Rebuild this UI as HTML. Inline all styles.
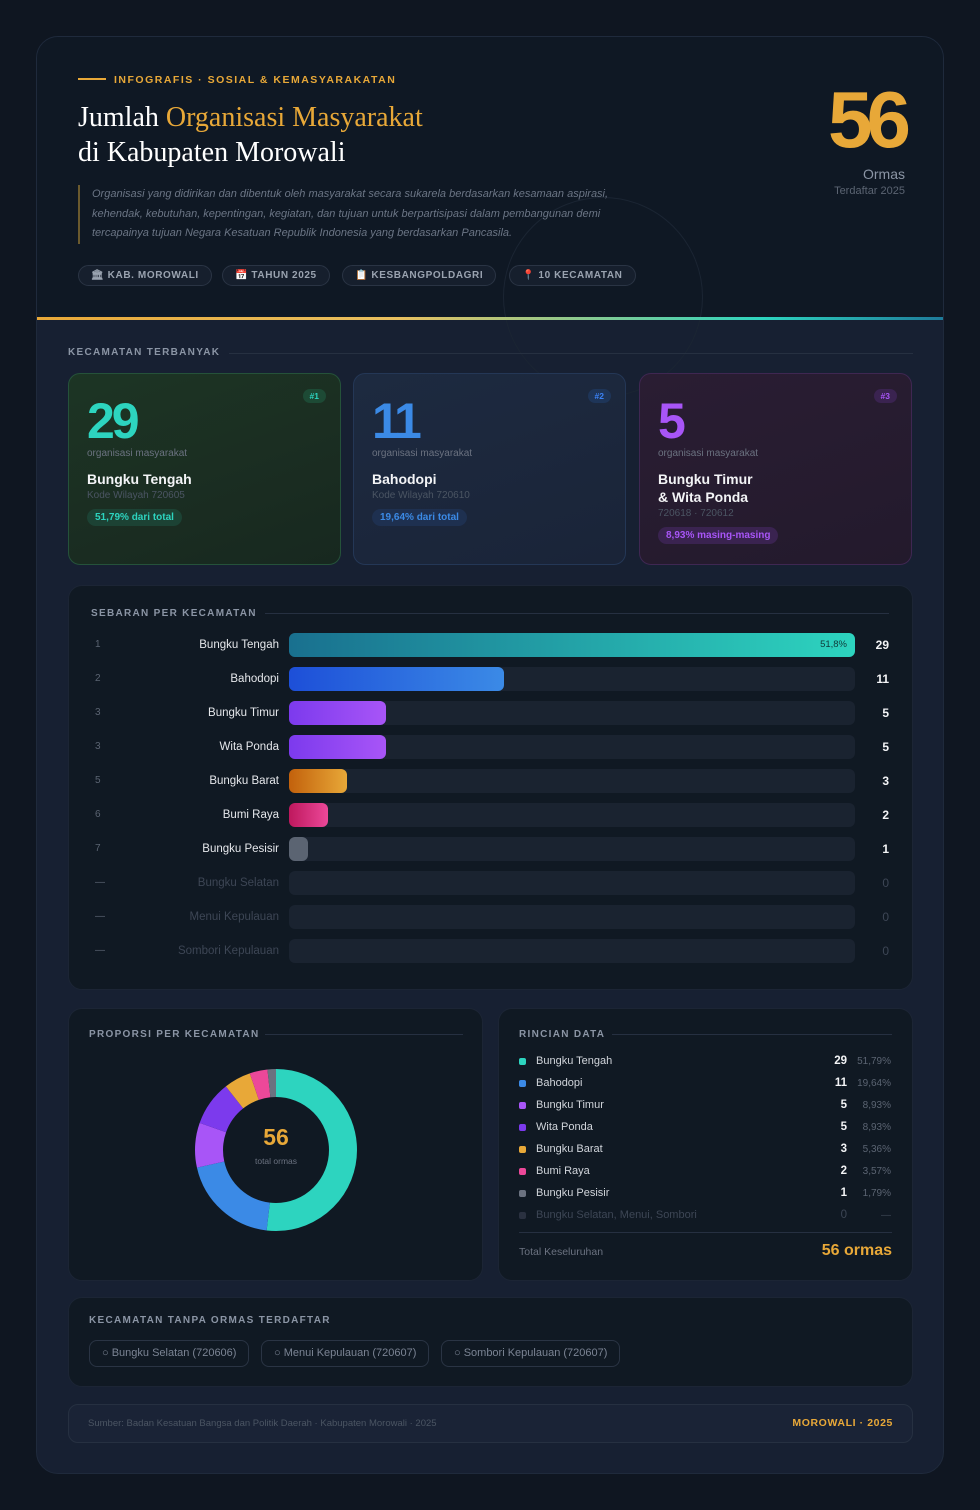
<!DOCTYPE html>
<html><head><meta charset="utf-8"><style>
*{box-sizing:border-box;margin:0;padding:0}
body{width:980px;height:1510px;background:#0f1621;font-family:"Liberation Sans",sans-serif;color:#e5e7eb;position:relative;overflow:hidden}
.wrap{position:absolute;left:36px;top:36px;width:908px;height:1438px;background:#172032;border-radius:22px;border:1px solid #1f2a3c;overflow:hidden}
.hdr{position:absolute;left:0;top:0;width:908px;height:280px;background:#0f1824}
.grad{position:absolute;left:0;top:280px;width:908px;height:3px;background:linear-gradient(90deg,#e8a838,#e8c060 40%,#2dd4bf 80%,#1e7a9a)}
.abs{position:absolute}
.tag{font-size:10.5px;font-weight:bold;letter-spacing:1.5px;color:#e8a838}
.sec{font-size:10px;font-weight:bold;letter-spacing:1.3px;color:#8b95a5}
.pill{position:absolute;top:228px;height:21px;border:1px solid #2a3444;border-radius:11px;background:#161f2d;font-size:10px;font-weight:bold;color:#9aa3b0;letter-spacing:.6px;line-height:19px;padding:0 12px}
.card{position:absolute;top:336px;width:273px;height:192px;border-radius:12px}
.big{position:absolute;left:18px;top:18px;font-size:50px;font-weight:bold;letter-spacing:-3px}
.small{position:absolute;left:18px;top:74px;font-size:10px;color:#6b7280}
.nm{position:absolute;left:18px;font-size:14px;font-weight:bold;color:#f3f4f6;line-height:18px}
.code{position:absolute;left:18px;font-size:10px;color:#4b5563}
.bdg{position:absolute;left:18px;height:17px;border-radius:9px;font-size:10px;font-weight:bold;line-height:17px;padding:0 8px}
.rk{position:absolute;right:14px;top:15px;height:14px;border-radius:7px;font-size:8.5px;font-weight:bold;line-height:14px;padding:0 7px}
.panel{position:absolute;background:#101923;border-radius:14px;border:1px solid #1c2535}
.row{position:absolute;left:0;width:840px;height:24px}
.row .n{position:absolute;left:26px;top:6px;font-size:10px;color:#5b6472}
.row .l{position:absolute;right:630px;top:6px;font-size:11.5px;color:#e5e7eb;white-space:nowrap}
.row .t{position:absolute;left:220px;top:0;width:566px;height:24px;background:#1a2330;border-radius:6px}
.row .b{position:absolute;left:220px;top:0;height:24px;border-radius:6px}
.row .v{position:absolute;left:800px;top:5px;width:20px;text-align:right;font-size:12px;font-weight:bold;color:#f3f4f6}
.row.z .l,.row.z .v{color:#3d4655;font-weight:normal}
.lg{position:absolute;left:20px;width:372px;height:14px;font-size:11px;color:#d1d5db}
.lg i{position:absolute;left:0;top:3px;width:7px;height:7px;border-radius:2px}
.lg span.a{position:absolute;left:17px;top:0}
.lg b{position:absolute;right:44px;top:0;font-size:11.5px;color:#f3f4f6}
.lg em{position:absolute;right:0;top:1px;font-style:normal;font-size:10px;color:#5b6472}
.chip{position:absolute;top:42px;height:27px;border:1px solid #2a3444;border-radius:8px;font-size:11px;color:#7b8494;line-height:25px;padding:0 12px}
</style></head><body>
<div class="wrap">
<div class="hdr">
 <div class="abs" style="left:466px;top:160px;width:200px;height:200px;border:1px solid #1b2533;border-radius:50%"></div>
 <div class="abs" style="left:41px;top:41px;width:28px;height:2px;background:#e8a838"></div>
 <div class="abs tag" style="left:77px;top:37px">INFOGRAFIS · SOSIAL &amp; KEMASYARAKATAN</div>
 <div class="abs" style="left:41px;top:63px;font-family:'Liberation Serif',serif;font-size:28px;line-height:35px;color:#fff">Jumlah <span style="color:#e8a838">Organisasi Masyarakat</span><br>di Kabupaten Morowali</div>
 <div class="abs" style="left:41px;top:148px;width:2px;height:59px;background:#6b5a2e"></div>
 <div class="abs" style="left:55px;top:148px;width:560px;font-size:11px;line-height:19.5px;font-style:italic;color:#6b7585">Organisasi yang didirikan dan dibentuk oleh masyarakat secara sukarela berdasarkan kesamaan aspirasi, kehendak, kebutuhan, kepentingan, kegiatan, dan tujuan untuk berpartisipasi dalam pembangunan demi tercapainya tujuan Negara Kesatuan Republik Indonesia yang berdasarkan Pancasila.</div>
 <div class="pill" style="left:41px">🏛 KAB. MOROWALI</div>
 <div class="pill" style="left:185px">📅 TAHUN 2025</div>
 <div class="pill" style="left:305px">📋 KESBANGPOLDAGRI</div>
 <div class="pill" style="left:472px">📍 10 KECAMATAN</div>
 <div class="abs" style="right:40px;top:38px;font-size:80px;font-weight:bold;letter-spacing:-6px;color:#e8a838;line-height:90px">56</div>
 <div class="abs" style="right:40px;top:129px;font-size:14px;color:#8b95a5">Ormas</div>
 <div class="abs" style="right:40px;top:148px;font-size:11px;color:#5b6472">Terdaftar 2025</div>
</div>
<div class="grad"></div>
<div class="abs sec" style="left:31px;top:310px">KECAMATAN TERBANYAK</div>
<div class="abs" style="left:192px;top:316px;width:684px;height:1px;background:#263041"></div>

<div class="card" style="left:31px;background:linear-gradient(160deg,#1c3524,#1b2e22 50%,#17281f);border:1px solid #25523a">
 <div class="rk" style="background:#1d4a35;color:#2dd4bf">#1</div>
 <div class="big" style="color:#2dd4bf">29</div><div class="small">organisasi masyarakat</div>
 <div class="nm" style="top:96px">Bungku Tengah</div><div class="code" style="top:116px">Kode Wilayah 720605</div>
 <div class="bdg" style="top:135px;background:#1c4234;color:#2dd4bf">51,79% dari total</div></div>
<div class="card" style="left:316px;background:linear-gradient(160deg,#1d2a40,#1a2438);border:1px solid #243756">
 <div class="rk" style="background:#1e3558;color:#3b82f6">#2</div>
 <div class="big" style="color:#3b8ae6">11</div><div class="small">organisasi masyarakat</div>
 <div class="nm" style="top:96px">Bahodopi</div><div class="code" style="top:116px">Kode Wilayah 720610</div>
 <div class="bdg" style="top:135px;background:#1e3050;color:#3b8ae6">19,64% dari total</div></div>
<div class="card" style="left:602px;background:linear-gradient(160deg,#2a1d33,#231a2c);border:1px solid #3f2752">
 <div class="rk" style="background:#3a2350;color:#a855f7">#3</div>
 <div class="big" style="color:#a855f7">5</div><div class="small">organisasi masyarakat</div>
 <div class="nm" style="top:96px">Bungku Timur<br>&amp; Wita Ponda</div><div class="code" style="top:134px">720618 · 720612</div>
 <div class="bdg" style="top:153px;background:#3a2350;color:#a855f7">8,93% masing-masing</div></div>

<div class="panel" style="left:31px;top:548px;width:845px;height:405px">
 <div class="abs sec" style="left:22px;top:22px">SEBARAN PER KECAMATAN</div>
 <div class="abs" style="left:196px;top:27px;width:624px;height:1px;background:#263041"></div>
 <div class="row" style="top:47px"><span class="n">1</span><span class="l">Bungku Tengah</span><div class="t"></div><div class="b" style="width:566px;background:linear-gradient(90deg,#19708f,#2dd4bf)"><span style="position:absolute;right:8px;top:6px;font-size:9.5px;color:#0f3a3a">51,8%</span></div><span class="v">29</span></div>
 <div class="row" style="top:81px"><span class="n">2</span><span class="l">Bahodopi</span><div class="t"></div><div class="b" style="width:215px;background:linear-gradient(90deg,#1d4fd8,#3b8ae6)"></div><span class="v">11</span></div>
 <div class="row" style="top:115px"><span class="n">3</span><span class="l">Bungku Timur</span><div class="t"></div><div class="b" style="width:97px;background:linear-gradient(90deg,#7c3aed,#a855f7)"></div><span class="v">5</span></div>
 <div class="row" style="top:149px"><span class="n">3</span><span class="l">Wita Ponda</span><div class="t"></div><div class="b" style="width:97px;background:linear-gradient(90deg,#7c3aed,#a855f7)"></div><span class="v">5</span></div>
 <div class="row" style="top:183px"><span class="n">5</span><span class="l">Bungku Barat</span><div class="t"></div><div class="b" style="width:58px;background:linear-gradient(90deg,#c2610c,#e8a838)"></div><span class="v">3</span></div>
 <div class="row" style="top:217px"><span class="n">6</span><span class="l">Bumi Raya</span><div class="t"></div><div class="b" style="width:39px;background:linear-gradient(90deg,#be185d,#ec4899)"></div><span class="v">2</span></div>
 <div class="row" style="top:251px"><span class="n">7</span><span class="l">Bungku Pesisir</span><div class="t"></div><div class="b" style="width:19px;background:#5b6472"></div><span class="v">1</span></div>
 <div class="row z" style="top:285px"><span class="n">—</span><span class="l">Bungku Selatan</span><div class="t"></div><span class="v">0</span></div>
 <div class="row z" style="top:319px"><span class="n">—</span><span class="l">Menui Kepulauan</span><div class="t"></div><span class="v">0</span></div>
 <div class="row z" style="top:353px"><span class="n">—</span><span class="l">Sombori Kepulauan</span><div class="t"></div><span class="v">0</span></div>
</div>

<div class="panel" style="left:31px;top:971px;width:415px;height:273px">
 <div class="abs sec" style="left:20px;top:20px">PROPORSI PER KECAMATAN</div>
 <div class="abs" style="left:196px;top:25px;width:198px;height:1px;background:#263041"></div>
 <svg class="abs" style="left:122px;top:56px" width="170" height="170" viewBox="-85 -85 170 170">
  <g fill="none" stroke-width="28" transform="rotate(-90)">
  <circle r="67" stroke="#2dd4bf" stroke-dasharray="218.2 1000" stroke-dashoffset="0"/>
  <circle r="67" stroke="#3b8ae6" stroke-dasharray="82.7 1000" stroke-dashoffset="-218.2"/>
  <circle r="67" stroke="#a855f7" stroke-dasharray="37.6 1000" stroke-dashoffset="-300.9"/>
  <circle r="67" stroke="#7c3aed" stroke-dasharray="37.6 1000" stroke-dashoffset="-338.5"/>
  <circle r="67" stroke="#e8a838" stroke-dasharray="22.6 1000" stroke-dashoffset="-376.1"/>
  <circle r="67" stroke="#ec4899" stroke-dasharray="15 1000" stroke-dashoffset="-398.7"/>
  <circle r="67" stroke="#6b7280" stroke-dasharray="7.5 1000" stroke-dashoffset="-413.7"/>
  </g>
  <text x="0" y="-5" text-anchor="middle" font-family="Liberation Sans" font-weight="bold" font-size="23" fill="#e8a838">56</text>
  <text x="0" y="14" text-anchor="middle" font-family="Liberation Sans" font-size="8.5" fill="#6b7280">total ormas</text>
 </svg>
</div>

<div class="panel" style="left:461px;top:971px;width:415px;height:273px">
 <div class="abs sec" style="left:20px;top:20px">RINCIAN DATA</div>
 <div class="abs" style="left:113px;top:25px;width:280px;height:1px;background:#263041"></div>
 <div class="lg" style="top:46px"><i style="background:#2dd4bf"></i><span class="a">Bungku Tengah</span><b>29</b><em>51,79%</em></div>
 <div class="lg" style="top:68px"><i style="background:#3b8ae6"></i><span class="a">Bahodopi</span><b>11</b><em>19,64%</em></div>
 <div class="lg" style="top:90px"><i style="background:#a855f7"></i><span class="a">Bungku Timur</span><b>5</b><em>8,93%</em></div>
 <div class="lg" style="top:112px"><i style="background:#7c3aed"></i><span class="a">Wita Ponda</span><b>5</b><em>8,93%</em></div>
 <div class="lg" style="top:134px"><i style="background:#e8a838"></i><span class="a">Bungku Barat</span><b>3</b><em>5,36%</em></div>
 <div class="lg" style="top:156px"><i style="background:#ec4899"></i><span class="a">Bumi Raya</span><b>2</b><em>3,57%</em></div>
 <div class="lg" style="top:178px"><i style="background:#6b7280"></i><span class="a">Bungku Pesisir</span><b>1</b><em>1,79%</em></div>
 <div class="lg" style="top:200px;color:#3d4655"><i style="background:#2a3140"></i><span class="a">Bungku Selatan, Menui, Sombori</span><b style="color:#3d4655;font-weight:normal">0</b><em style="color:#3d4655">—</em></div>
 <div class="abs" style="left:20px;top:223px;width:373px;height:1px;background:#263041"></div>
 <div class="abs" style="left:20px;top:237px;font-size:10.5px;color:#6b7280">Total Keseluruhan</div>
 <div class="abs" style="right:20px;top:233px;font-size:16px;font-weight:bold;color:#e8a838">56 ormas</div>
</div>

<div class="panel" style="left:31px;top:1260px;width:845px;height:90px">
 <div class="abs sec" style="left:20px;top:17px">KECAMATAN TANPA ORMAS TERDAFTAR</div>
 <div class="chip" style="left:20px">○ Bungku Selatan (720606)</div>
 <div class="chip" style="left:192px">○ Menui Kepulauan (720607)</div>
 <div class="chip" style="left:372px">○ Sombori Kepulauan (720607)</div>
</div>

<div class="abs" style="left:31px;top:1367px;width:845px;height:39px;background:#1a2336;border:1px solid #263041;border-radius:10px">
 <div class="abs" style="left:19px;top:13px;font-size:9.5px;color:#4b5563">Sumber: Badan Kesatuan Bangsa dan Politik Daerah · Kabupaten Morowali · 2025</div>
 <div class="abs" style="right:19px;top:12px;font-size:10.5px;font-weight:bold;letter-spacing:.6px;color:#e8a838">MOROWALI · 2025</div>
</div>
</div>
</body></html>
